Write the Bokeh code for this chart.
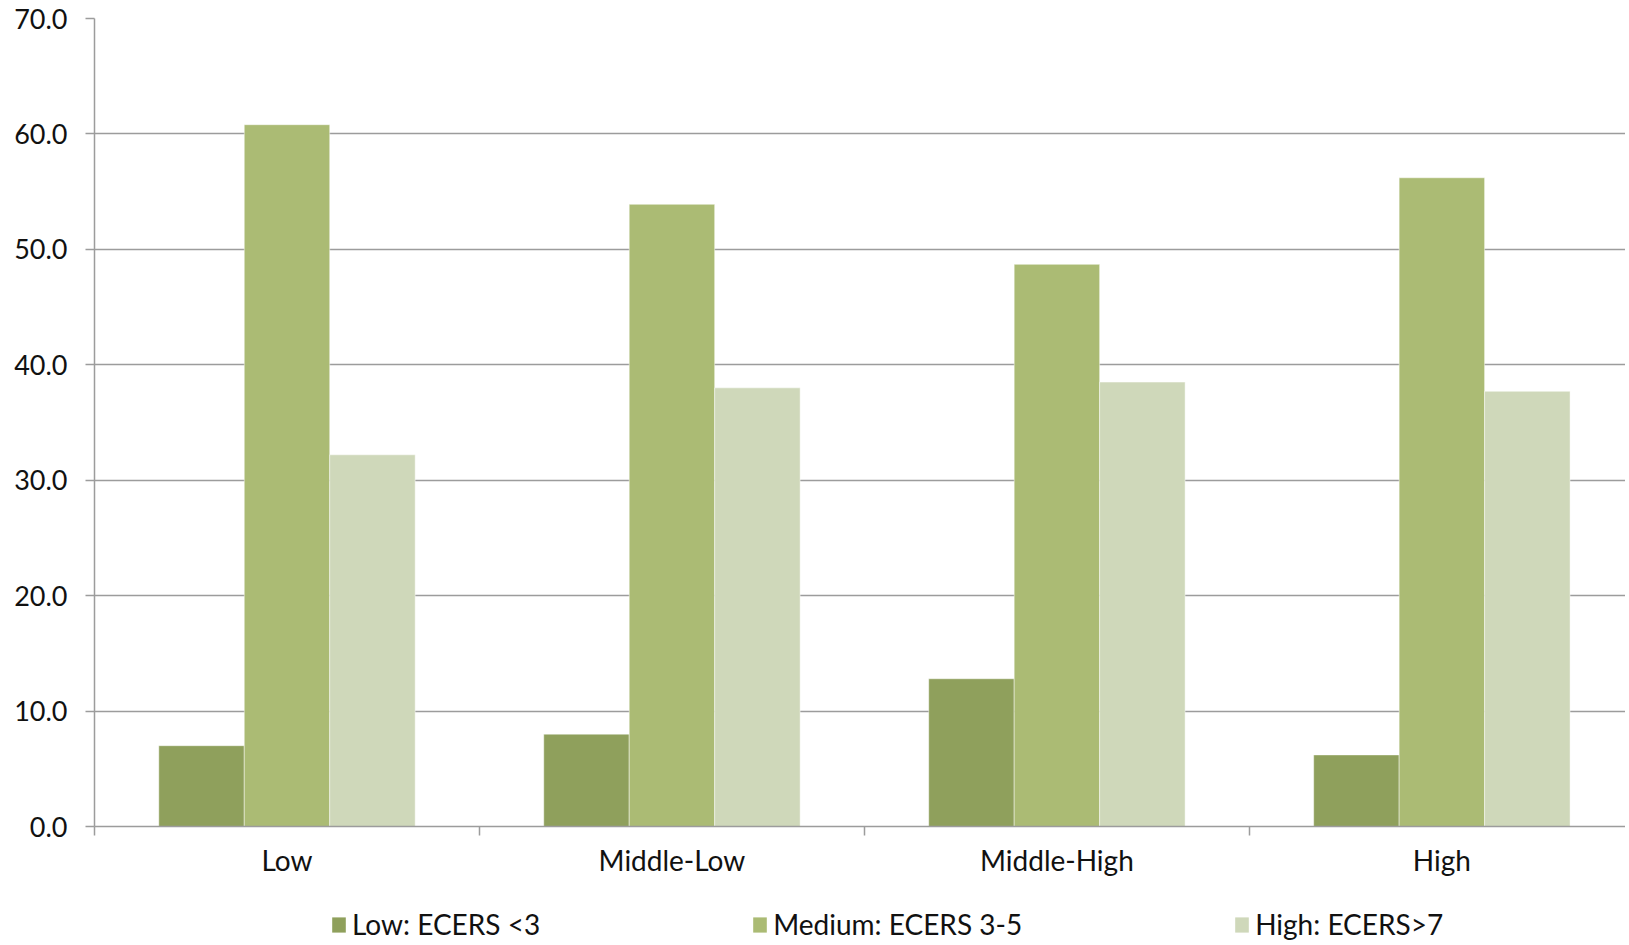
from bokeh.plotting import figure
from bokeh.layouts import column
from bokeh.models import (Range1d, FixedTicker, LinearAxis, Legend, LegendItem,
                          ColumnDataSource, CustomJSTickFormatter, NumeralTickFormatter, Grid)
from bokeh.embed import file_html
from bokeh.resources import INLINE

categories = ["Low", "Middle-Low", "Middle-High", "High"]
series_names = ["Low: ECERS <3", "Medium: ECERS 3-5", "High: ECERS>7"]
low_vals = [7.0, 8.0, 12.8, 6.2]
medium_vals = [60.8, 53.9, 48.7, 56.2]
high_vals = [32.2, 38.0, 38.5, 37.7]
y_ticks = [0, 10, 20, 30, 40, 50, 60, 70]
colors = ["#8FA05C", "#ABBB74", "#CFD8BA"]

FONT = "Lato"
GRID = "#9c9c9c"
W = 1625

p = figure(width=W, height=885, x_range=Range1d(0, 3.977), y_range=Range1d(0, 70),
           output_backend="svg", toolbar_location=None,
           x_axis_type=None, y_axis_type=None,
           min_border_left=94, min_border_right=0, min_border_top=18, min_border_bottom=59)
p.outline_line_color = None
p.background_fill_color = "white"
p.border_fill_color = "white"

# y axis
yaxis = LinearAxis(ticker=FixedTicker(ticks=y_ticks), formatter=NumeralTickFormatter(format="0.0"))
yaxis.axis_line_color = GRID
yaxis.axis_line_width = 1.5
yaxis.major_tick_line_color = GRID
yaxis.major_tick_line_width = 1.5
yaxis.major_tick_in = 0
yaxis.major_tick_out = 9
yaxis.minor_tick_line_color = None
yaxis.major_label_standoff = 18
yaxis.major_label_text_font = FONT
yaxis.major_label_text_font_size = "27px"
yaxis.major_label_text_color = "#111111"
p.add_layout(yaxis, "left")

grid = Grid(dimension=1, ticker=yaxis.ticker)
grid.grid_line_color = GRID
grid.grid_line_width = 1.5
p.add_layout(grid)

# x axis
n = len(categories)
xaxis = LinearAxis(
    ticker=FixedTicker(ticks=[i + 0.5 for i in range(n)], minor_ticks=list(range(n))),
    formatter=CustomJSTickFormatter(args=dict(names=categories),
                                    code="return names[Math.floor(tick)];"))
xaxis.axis_line_color = GRID
xaxis.axis_line_width = 1.5
xaxis.major_tick_line_color = None
xaxis.major_tick_in = 0
xaxis.major_tick_out = 9
xaxis.minor_tick_line_color = GRID
xaxis.minor_tick_line_width = 1.5
xaxis.minor_tick_in = 0
xaxis.minor_tick_out = 9
xaxis.major_label_standoff = 7
xaxis.major_label_text_font = FONT
xaxis.major_label_text_font_size = "28px"
xaxis.major_label_text_color = "#111111"
p.add_layout(xaxis, "below")

bw = 0.222
offsets = [-bw, 0.0, bw]
for vals, off, col in zip([low_vals, medium_vals, high_vals], offsets, colors):
    src = ColumnDataSource(dict(x=[i + 0.5 + off for i in range(n)], top=vals))
    p.vbar(x="x", top="top", bottom=0, width=bw, source=src,
           fill_color=col, line_color="white", line_alpha=0.45, line_width=1)

# legend strip below the chart (its frame aligns with the chart frame)
p2 = figure(width=W, height=56, x_range=Range1d(0, 10), y_range=Range1d(0, 10),
            output_backend="svg", toolbar_location=None,
            x_axis_type=None, y_axis_type=None,
            min_border=0, min_border_left=0, min_border_right=0, min_border_top=0, min_border_bottom=0)
p2.outline_line_color = None
legend_renderers = []
for col in colors:
    r = p2.vbar(x=[-100], top=[0], bottom=0, width=1, fill_color=col, line_color=None)
    legend_renderers.append(r)

legend = Legend(items=[LegendItem(label=nm, renderers=[r]) for nm, r in zip(series_names, legend_renderers)],
                location=(236, 0), orientation="horizontal", spacing=211,
                padding=0, margin=0, border_line_color=None, background_fill_alpha=0,
                glyph_width=17, glyph_height=19, label_standoff=5,
                label_text_font=FONT, label_text_font_size="28px", label_text_color="#111111")
p2.add_layout(legend)

layout = column(p, p2, spacing=0)
open("out.html", "w").write(file_html(layout, INLINE))
